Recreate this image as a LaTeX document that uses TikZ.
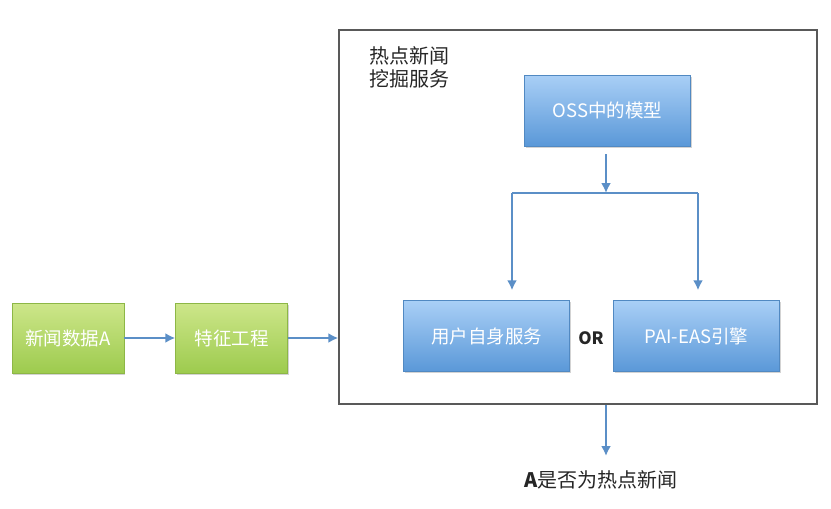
\documentclass[tikz,border=0pt]{standalone}
\usepackage{fontspec}
\setmainfont{Noto Sans CJK SC}
\usetikzlibrary{arrows.meta,shadows}
\definecolor{arrowc}{HTML}{5B8FC7}
\definecolor{bluetop}{HTML}{A9CFF6}
\definecolor{bluebot}{HTML}{5A98D8}
\definecolor{greentop}{HTML}{CDE68A}
\definecolor{greenbot}{HTML}{9DCB4E}
\tikzset{
  bluebox/.style={minimum width=166pt, minimum height=71pt, top color=bluetop, bottom color=bluebot, draw=bluebot!90!black, line width=0.4pt, text=white, font=\fontsize{18.5pt}{22pt}\selectfont, drop shadow={opacity=0.35, shadow xshift=1pt, shadow yshift=-1.5pt}},
  greenbox/.style={minimum width=112pt, minimum height=70pt, top color=greentop, bottom color=greenbot, draw=greenbot!90!black, line width=0.4pt, text=white, font=\fontsize{18.5pt}{22pt}\selectfont, drop shadow={opacity=0.35, shadow xshift=1pt, shadow yshift=-1.5pt}},
  conn/.style={draw=arrowc, line width=2pt, -{Latex[length=10pt,width=10pt]}},
  plain/.style={draw=arrowc, line width=2pt},
  lbl/.style={font=\fontsize{20pt}{23pt}\selectfont, text=black!85},
}
\begin{document}
\begin{tikzpicture}[x=1pt,y=-1pt]
\useasboundingbox (0,0) rectangle (831,509);
\node[draw=black!65, line width=1.4pt, minimum width=478pt, minimum height=374pt, inner sep=0pt] (outer) at (578,217) {};
\node[lbl, align=left, anchor=north west, inner sep=0pt] (title) at (369,46) {热点新闻\\挖掘服务};
\node[greenbox] (news) at (68,338) {新闻数据A};
\node[greenbox] (feat) at (231.5,338) {特征工程};
\node[bluebox] (oss) at (607.5,110.5) {OSS中的模型};
\node[bluebox] (user) at (486.5,336) {用户自身服务};
\node[bluebox] (pai) at (696.5,336) {PAI-EAS引擎};
\node[lbl, font=\fontsize{17pt}{20pt}\selectfont\bfseries] (or) at (591,338) {OR};
\node[lbl, inner sep=0pt] (result) at (601,480) {\textbf{A}是否为热点新闻};
\coordinate (j) at (606,193);
\coordinate (jl) at (512,193);
\coordinate (jr) at (698,193);
\coordinate (resultarr) at (606,456);
\draw[conn] (news.east) -- (feat.west);
\draw[conn] (feat.east) -- (outer.west |- feat.east);
\draw[conn, shorten <=8pt] (oss.south -| j) -- (j);
\draw[plain] (jl) -- (jr);
\draw[conn, shorten >=10pt] (jl) -- (jl |- user.north);
\draw[conn, shorten >=10pt] (jr) -- (jr |- pai.north);
\draw[conn] (outer.south -| j) -- (resultarr);
\end{tikzpicture}
\end{document}
